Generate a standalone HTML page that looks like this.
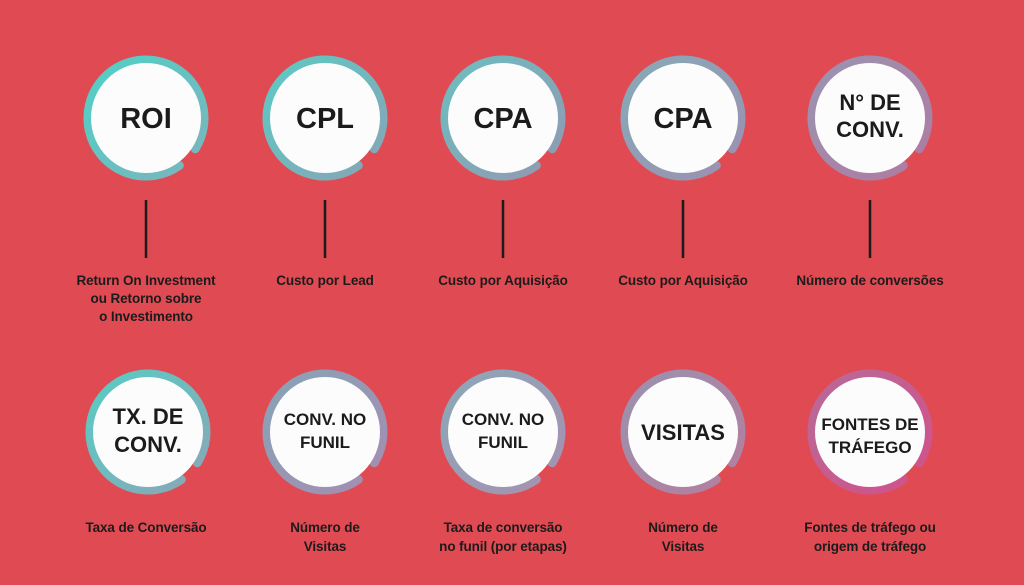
<!DOCTYPE html>
<html><head><meta charset="utf-8"><style>
body{margin:0;width:1024px;height:585px;background:#e04b53;overflow:hidden}
svg{display:block}
text{font-family:"Liberation Sans",sans-serif;font-weight:bold;fill:#1b1b1b;text-anchor:middle}
.t{font-size:29px}.m{font-size:22px}.s{font-size:17px}.l{font-size:13.5px;letter-spacing:-0.1px}
</style></head><body>
<svg width="1024" height="585" viewBox="0 0 1024 585">
<defs>
<linearGradient id="g1" x1="0" y1="0" x2="1" y2="1"><stop offset="0" stop-color="#50d0c6"/><stop offset="1" stop-color="#7cb4bc"/></linearGradient>
<linearGradient id="g2" x1="0" y1="0" x2="1" y2="1"><stop offset="0" stop-color="#5ccac4"/><stop offset="1" stop-color="#88a4b6"/></linearGradient>
<linearGradient id="g3" x1="0" y1="0" x2="1" y2="1"><stop offset="0" stop-color="#6cbec0"/><stop offset="1" stop-color="#9398b2"/></linearGradient>
<linearGradient id="g4" x1="0" y1="0" x2="1" y2="1"><stop offset="0" stop-color="#86aab8"/><stop offset="1" stop-color="#9c90b0"/></linearGradient>
<linearGradient id="g5" x1="0" y1="0" x2="1" y2="1"><stop offset="0" stop-color="#9a94b0"/><stop offset="1" stop-color="#b07aa2"/></linearGradient>
<linearGradient id="h1" x1="0" y1="0" x2="1" y2="1"><stop offset="0" stop-color="#58ccc4"/><stop offset="1" stop-color="#8aa6b6"/></linearGradient>
<linearGradient id="h2" x1="0" y1="0" x2="1" y2="1"><stop offset="0" stop-color="#86a4b6"/><stop offset="1" stop-color="#a68cb0"/></linearGradient>
<linearGradient id="h3" x1="0" y1="0" x2="1" y2="1"><stop offset="0" stop-color="#8aa8b8"/><stop offset="1" stop-color="#a890b0"/></linearGradient>
<linearGradient id="h4" x1="0" y1="0" x2="1" y2="1"><stop offset="0" stop-color="#9a92ae"/><stop offset="1" stop-color="#b47e9e"/></linearGradient>
<linearGradient id="h5" x1="0" y1="0" x2="1" y2="1"><stop offset="0" stop-color="#b86a98"/><stop offset="1" stop-color="#d2508a"/></linearGradient>
</defs>
<g fill="none" stroke-width="9" stroke-linecap="round">
<path stroke="url(#g1)" d="M179.3 165.5 A58 58 0 1 1 195.2 148.7"/>
<path stroke="url(#g2)" d="M358.3 165.5 A58 58 0 1 1 374.2 148.7"/>
<path stroke="url(#g3)" d="M536.3 165.5 A58 58 0 1 1 552.2 148.7"/>
<path stroke="url(#g4)" d="M716.3 165.5 A58 58 0 1 1 732.2 148.7"/>
<path stroke="url(#g5)" d="M903.3 165.5 A58 58 0 1 1 919.2 148.7"/>
<path stroke="url(#h1)" d="M181.3 479.5 A58 58 0 1 1 197.2 462.7"/>
<path stroke="url(#h2)" d="M358.3 479.5 A58 58 0 1 1 374.2 462.7"/>
<path stroke="url(#h3)" d="M536.3 479.5 A58 58 0 1 1 552.2 462.7"/>
<path stroke="url(#h4)" d="M716.3 479.5 A58 58 0 1 1 732.2 462.7"/>
<path stroke="url(#h5)" d="M903.3 479.5 A58 58 0 1 1 919.2 462.7"/>
</g>
<g fill="#fcfcfc">
<circle cx="146" cy="118" r="55"/><circle cx="325" cy="118" r="55"/><circle cx="503" cy="118" r="55"/><circle cx="683" cy="118" r="55"/><circle cx="870" cy="118" r="55"/>
<circle cx="148" cy="432" r="55"/><circle cx="325" cy="432" r="55"/><circle cx="503" cy="432" r="55"/><circle cx="683" cy="432" r="55"/><circle cx="870" cy="432" r="55"/>
</g>
<g stroke="#1b1b1b" stroke-width="2.5">
<line x1="146" y1="200" x2="146" y2="258"/><line x1="325" y1="200" x2="325" y2="258"/><line x1="503" y1="200" x2="503" y2="258"/><line x1="683" y1="200" x2="683" y2="258"/><line x1="870" y1="200" x2="870" y2="258"/>
</g>
<text class="t" x="146" y="128">ROI</text>
<text class="t" x="325" y="128">CPL</text>
<text class="t" x="503" y="128">CPA</text>
<text class="t" x="683" y="128">CPA</text>
<text class="m" x="870" y="110">N° DE</text><text class="m" x="870" y="137">CONV.</text>
<text class="m" x="148" y="424">TX. DE</text><text class="m" x="148" y="452">CONV.</text>
<text class="s" x="325" y="425">CONV. NO</text><text class="s" x="325" y="448">FUNIL</text>
<text class="s" x="503" y="425">CONV. NO</text><text class="s" x="503" y="448">FUNIL</text>
<text class="m" x="683" y="440">VISITAS</text>
<text class="s" x="870" y="430">FONTES DE</text><text class="s" x="870" y="453">TRÁFEGO</text>
<text class="l" x="146" y="285">Return On Investment</text><text class="l" x="146" y="303">ou Retorno sobre</text><text class="l" x="146" y="321">o Investimento</text>
<text class="l" x="325" y="285">Custo por Lead</text>
<text class="l" x="503" y="285">Custo por Aquisição</text>
<text class="l" x="683" y="285">Custo por Aquisição</text>
<text class="l" x="870" y="285">Número de conversões</text>
<text class="l" x="146" y="532">Taxa de Conversão</text>
<text class="l" x="325" y="532">Número de</text><text class="l" x="325" y="551">Visitas</text>
<text class="l" x="503" y="532">Taxa de conversão</text><text class="l" x="503" y="551">no funil (por etapas)</text>
<text class="l" x="683" y="532">Número de</text><text class="l" x="683" y="551">Visitas</text>
<text class="l" x="870" y="532">Fontes de tráfego ou</text><text class="l" x="870" y="551">origem de tráfego</text>
</svg>
</body></html>
